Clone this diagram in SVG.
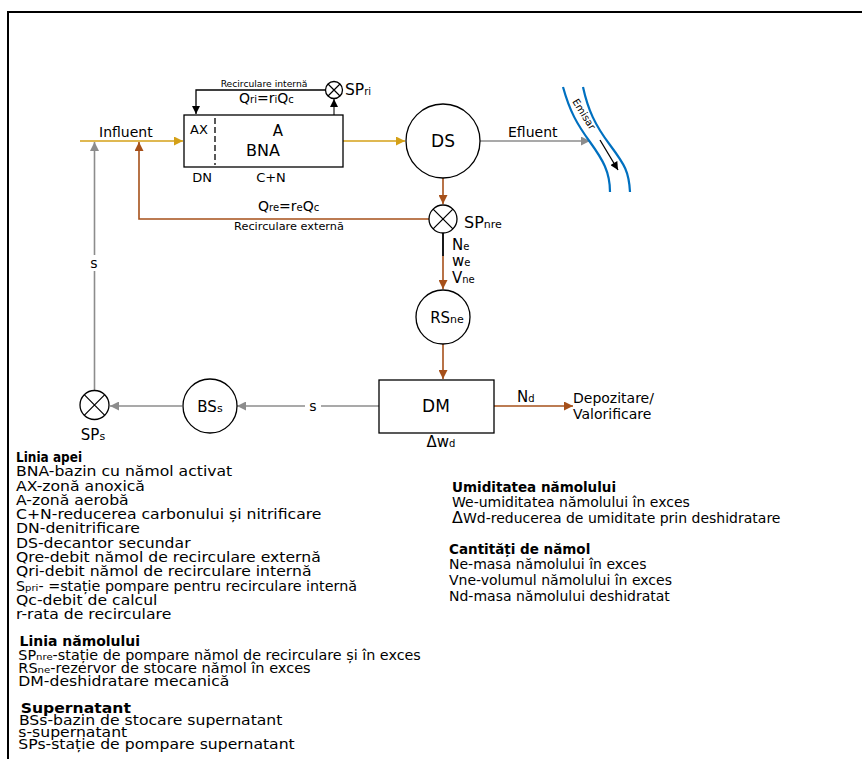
<svg xmlns="http://www.w3.org/2000/svg" width="862" height="759" viewBox="0 0 862 759">
<defs>
<style>
text{font-family:"DejaVu Sans",Verdana,sans-serif;fill:#000}
.lbl{font-size:14px}
.sub{font-size:10px}
.node{fill:#fff;stroke:#000;stroke-width:1.3}
.gold{stroke:#D4A017;stroke-width:1.6;fill:none}
.brown{stroke:#A6501A;stroke-width:1.6;fill:none}
.gray{stroke:#8C8C8C;stroke-width:1.6;fill:none}
.blk{stroke:#000;stroke-width:1.3;fill:none}
.leg{font-size:13.5px}
.legb{font-size:13.5px;font-weight:bold}
.legs{font-size:9.5px}
</style>
<marker id="aGold" viewBox="0 0 10 10" refX="10" refY="5" markerWidth="11" markerHeight="9" markerUnits="userSpaceOnUse" orient="auto"><path d="M0,0L10,5L0,10z" fill="#D4A017"/></marker>
<marker id="aBrown" viewBox="0 0 10 10" refX="10" refY="5" markerWidth="11" markerHeight="9" markerUnits="userSpaceOnUse" orient="auto"><path d="M0,0L10,5L0,10z" fill="#A6501A"/></marker>
<marker id="aGray" viewBox="0 0 10 10" refX="10" refY="5" markerWidth="11" markerHeight="9" markerUnits="userSpaceOnUse" orient="auto"><path d="M0,0L10,5L0,10z" fill="#8C8C8C"/></marker>
<marker id="aBlk" viewBox="0 0 10 10" refX="10" refY="5" markerWidth="9" markerHeight="8" markerUnits="userSpaceOnUse" orient="auto"><path d="M0,0L10,5L0,10z" fill="#000"/></marker>
</defs>
<rect x="0" y="0" width="862" height="759" fill="#fff"/>
<rect x="8" y="12" width="900" height="800" fill="none" stroke="#000" stroke-width="2"/>

<g id="connectors">
<line class="gold" x1="80" y1="141" x2="183" y2="141" marker-end="url(#aGold)"/>
<line class="gold" x1="343" y1="141" x2="405" y2="141" marker-end="url(#aGold)"/>
<polyline class="blk" points="325.5,90 196,90 196,114" marker-end="url(#aBlk)"/>
<line class="gray" x1="334" y1="115" x2="334" y2="99" style="stroke:#555" marker-end="url(#aBlk)"/>
<line class="gray" x1="480" y1="141" x2="590" y2="141" marker-end="url(#aGray)"/>
<line class="brown" x1="443" y1="178" x2="443" y2="204" marker-end="url(#aBrown)"/>
<polyline class="brown" points="429,219 139,219 139,142" marker-end="url(#aBrown)"/>
<line class="blk" x1="443" y1="233" x2="443" y2="256" style="stroke-width:1.8"/>
<line class="brown" x1="443" y1="256" x2="443" y2="289" marker-end="url(#aBrown)"/>
<line class="brown" x1="443" y1="344" x2="443" y2="379" marker-end="url(#aBrown)"/>
<line class="brown" x1="494" y1="406" x2="573" y2="406" marker-end="url(#aBrown)"/>
<line class="gray" x1="379" y1="406" x2="237" y2="406" marker-end="url(#aGray)"/>
<line class="gray" x1="182" y1="406" x2="110" y2="406" marker-end="url(#aGray)"/>
<line class="gray" x1="94.5" y1="390" x2="94.5" y2="142" marker-end="url(#aGray)"/>
<rect x="86" y="255" width="16" height="16" fill="#fff"/>
<text class="lbl" x="94" y="268" text-anchor="middle">s</text>
<rect x="305" y="398" width="16" height="16" fill="#fff"/>
<text class="lbl" x="313" y="411" text-anchor="middle">s</text>
<text x="264" y="87" text-anchor="middle" style="font-size:9.2px">Recirculare internă</text>
<text class="lbl" x="239" y="103">Q<tspan class="sub">ri</tspan>=r<tspan class="sub">i</tspan>Q<tspan class="sub">c</tspan></text>
<text class="lbl" x="99" y="137">Influent</text>
<text class="lbl" x="508" y="137">Efluent</text>
<text class="lbl" x="258" y="211">Q<tspan class="sub">re</tspan>=r<tspan class="sub">e</tspan>Q<tspan class="sub">c</tspan></text>
<text x="289" y="230" text-anchor="middle" style="font-size:11.3px">Recirculare externă</text>
<text x="452" y="250" style="font-size:15px">N<tspan class="sub">e</tspan></text>
<text x="452" y="266" style="font-size:15px">w<tspan class="sub">e</tspan></text>
<text x="452" y="283" style="font-size:15px">V<tspan class="sub">ne</tspan></text>
<text class="lbl" x="517" y="402" style="font-size:15px">N<tspan class="sub">d</tspan></text>
<text class="lbl" x="573" y="403">Depozitare/</text>
<text class="lbl" x="573" y="419">Valorificare</text>
</g>

<g id="emisar">
<path d="M563,87 C570,112 577,124 590,142 S610,172 610,192" fill="none" stroke="#0070C0" stroke-width="2.2"/>
<path d="M583,87 C588,110 595,125 610,145 S629,172 630,192" fill="none" stroke="#0070C0" stroke-width="2.2"/>
<text x="581" y="116" text-anchor="middle" transform="rotate(58 581 116)" style="font-size:10px">Emisar</text>
<line x1="600" y1="140" x2="618" y2="170" stroke="#000" stroke-width="1.3" marker-end="url(#aBlk)"/>
</g>

<g id="BNA">
<rect class="node" x="184" y="115" width="159" height="52"/>
<line x1="215" y1="118" x2="215" y2="165" stroke="#000" stroke-width="1.3" stroke-dasharray="6,3"/>
<text x="190" y="134" style="font-size:13px">AX</text>
<text x="278" y="136" text-anchor="middle" style="font-size:15px">A</text>
<text x="263" y="156" text-anchor="middle" style="font-size:16px">BNA</text>
<text x="202" y="182" text-anchor="middle" style="font-size:13px">DN</text>
<text x="271" y="182" text-anchor="middle" style="font-size:13px">C+N</text>
</g>

<g id="SPri">
<circle class="node" cx="334" cy="90" r="8.5"/>
<path d="M328,84L340,96M340,84L328,96" stroke="#000" stroke-width="1.2"/>
<text x="345" y="95" style="font-size:15.5px">SP<tspan class="sub">ri</tspan></text>
</g>

<g id="DS">
<circle class="node" cx="443" cy="141" r="37"/>
<text x="443" y="147" text-anchor="middle" style="font-size:17px">DS</text>
</g>

<g id="SPnre">
<circle class="node" cx="443" cy="219" r="14"/>
<path d="M433.1,209.1L452.9,228.9M452.9,209.1L433.1,228.9" stroke="#000" stroke-width="1.3"/>
<text x="464" y="228" style="font-size:16px">SP<tspan style="font-size:11px">nre</tspan></text>
</g>

<g id="RSne">
<circle class="node" cx="443" cy="317" r="27"/>
<text x="447" y="323" text-anchor="middle" style="font-size:15px">RS<tspan style="font-size:11px">ne</tspan></text>
</g>

<g id="DM">
<rect class="node" x="379" y="380" width="115" height="53"/>
<text x="436" y="412" text-anchor="middle" style="font-size:17px">DM</text>
<text x="441" y="447" text-anchor="middle" style="font-size:15px">Δw<tspan class="sub">d</tspan></text>
</g>

<g id="BSs">
<circle class="node" cx="210" cy="406" r="27"/>
<text x="210" y="412" text-anchor="middle" style="font-size:15px">BS<tspan style="font-size:11px">s</tspan></text>
</g>

<g id="SPs">
<circle class="node" cx="94.5" cy="405" r="14.5"/>
<path d="M84.2,394.7L104.8,415.3M104.8,394.7L84.2,415.3" stroke="#000" stroke-width="1.2"/>
<text x="93" y="440" text-anchor="middle" style="font-size:15px">SP<tspan style="font-size:11px">s</tspan></text>
</g>

<g id="legend-left" transform="translate(16,0) scale(1.16,1) translate(-16,0)">
<text class="legb" x="16" y="462" textLength="57" lengthAdjust="spacingAndGlyphs">Linia apei</text>
<text class="leg" x="16" y="476.3">BNA-bazin cu nămol activat</text>
<text class="leg" x="16" y="490.6">AX-zonă anoxică</text>
<text class="leg" x="16" y="504.9">A-zonă aerobă</text>
<text class="leg" x="16" y="519.2">C+N-reducerea carbonului și nitrificare</text>
<text class="leg" x="16" y="533.5">DN-denitrificare</text>
<text class="leg" x="16" y="547.8">DS-decantor secundar</text>
<text class="leg" x="16" y="562.1">Qre-debit nămol de recirculare externă</text>
<text class="leg" x="16" y="576.4">Qri-debit nămol de recirculare internă</text>
<text class="leg" x="16" y="590.7" textLength="294" lengthAdjust="spacingAndGlyphs">S<tspan class="legs">pri</tspan>- =stație pompare pentru recirculare internă</text>
<text class="leg" x="16" y="605">Qc-debit de calcul</text>
<text class="leg" x="16" y="619.3">r-rata de recirculare</text>
<text class="legb" x="19" y="646" textLength="104" lengthAdjust="spacingAndGlyphs">Linia nămolului</text>
<text class="leg" x="18" y="660" textLength="347" lengthAdjust="spacingAndGlyphs">SP<tspan class="legs">nre</tspan>-stație de pompare nămol de recirculare și în exces</text>
<text class="leg" x="18" y="673" textLength="252" lengthAdjust="spacingAndGlyphs">RS<tspan class="legs">ne</tspan>-rezervor de stocare nămol în exces</text>
<text class="leg" x="18" y="686">DM-deshidratare mecanică</text>
<text class="legb" x="20" y="713">Supernatant</text>
<text class="leg" x="18.5" y="725">BSs-bazin de stocare supernatant</text>
<text class="leg" x="18" y="737">s-supernatant</text>
<text class="leg" x="18" y="749">SPs-stație de pompare supernatant</text>
</g>

<g id="legend-right">
<text x="452" y="492" style="font-size:13.5px;font-weight:bold">Umiditatea nămolului</text>
<text x="452" y="507" style="font-size:14px">We-umiditatea nămolului în exces</text>
<text x="452" y="523" style="font-size:14px"><tspan style="font-size:16px">Δ</tspan>Wd-reducerea de umiditate prin deshidratare</text>
<text x="449" y="554" style="font-size:13.5px;font-weight:bold">Cantități de nămol</text>
<text x="449" y="569" style="font-size:14px">Ne-masa nămolului în exces</text>
<text x="449" y="585" style="font-size:14px">Vne-volumul nămolului în exces</text>
<text x="449" y="601" style="font-size:14px">Nd-masa nămolului deshidratat</text>
</g>
</svg>
